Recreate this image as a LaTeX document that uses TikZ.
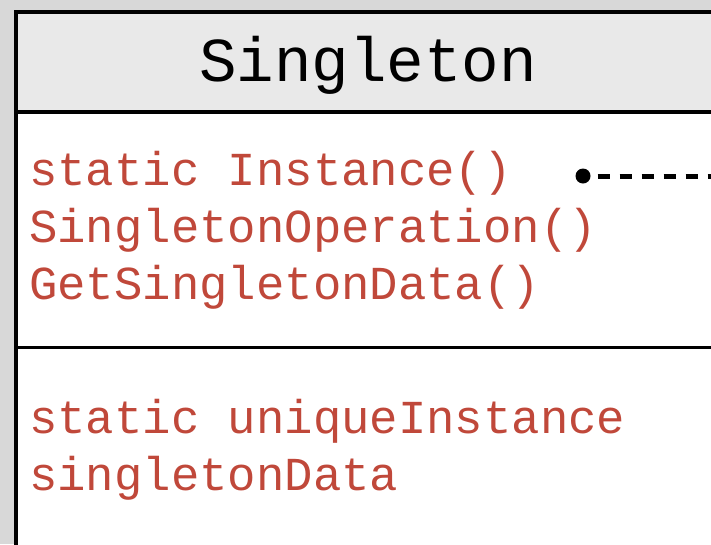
\documentclass[tikz,border=0pt]{standalone}
\usepackage{fontspec}
\setmonofont{Liberation Mono}
\definecolor{opred}{HTML}{C0483A}
\definecolor{hdrgray}{HTML}{E9E9E9}
\definecolor{bggray}{HTML}{D8D8D8}
\begin{document}
\begin{tikzpicture}[x=1pt,y=-1pt,
  member/.style={anchor=base west,inner sep=0pt,text=opred,font=\ttfamily\fontsize{47.3}{50}\selectfont}]
\useasboundingbox (0,0) rectangle (711,544);
% Background
\fill[bggray] (0,0) rectangle (711,544);

% Class box
\fill[white] (16,12) rectangle (725,560);
\fill[hdrgray] (16,12) rectangle (725,112);
\draw[line width=3.5pt] (16,560) -- (16,12) -- (725,12);
\draw[line width=3.5pt] (16,112) -- (725,112);
\draw[line width=3pt] (16,347) -- (725,347);

% Class name
\node[anchor=base,inner sep=0pt,font=\ttfamily\fontsize{62.5}{64}\selectfont] (name) at (368,81) {Singleton};

% Operations
\node[member] (inst) at (29,185) {static Instance()};
\node[member] (oper) at (29,242) {SingletonOperation()};
\node[member] (data) at (29,299) {GetSingletonData()};

% Attributes
\node[member] (uniq) at (29,433) {static uniqueInstance};
\node[member] (sdat) at (29,490) {singletonData};

% Note link
\node[circle,fill=black,inner sep=0pt,minimum size=15pt] (dot) at (583,176) {};
\coordinate (noteend) at (711,176);
\draw[line width=5pt,dash pattern=on 12pt off 10pt] (dot.east) ++(7,0) -- (noteend);
\end{tikzpicture}
\end{document}
